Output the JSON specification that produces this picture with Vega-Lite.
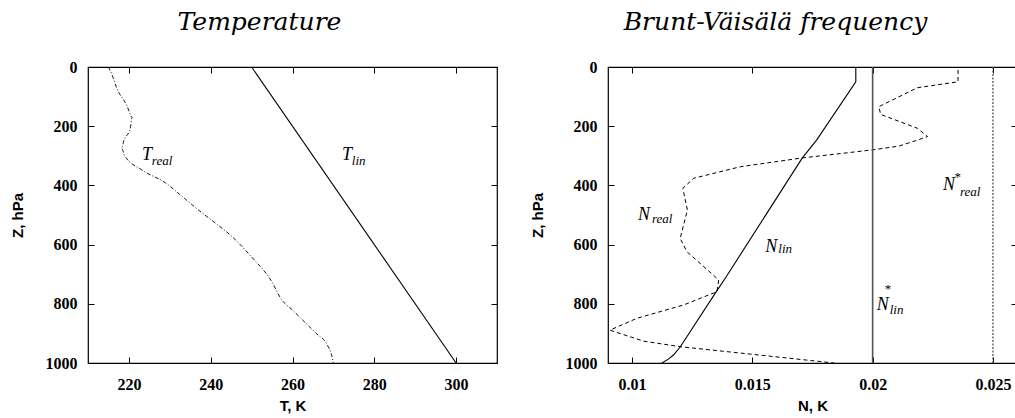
{
  "$schema": "https://vega.github.io/schema/vega-lite/v6.json",
  "padding": {"left": 9, "top": 9, "right": 0, "bottom": 0},
  "background": "white",
  "config": {
    "view": {"stroke": "black", "strokeWidth": 1.2},
    "font": "Liberation Serif",
    "axis": {"domain": false, "grid": false, "tickColor": "black", "tickSize": -6, "tickWidth": 1, "labelFont": "Liberation Serif", "labelFontWeight": "bold", "labelFontSize": 16, "labelColor": "black", "titleFont": "Liberation Sans", "titleFontWeight": "bold", "titleFontSize": 15, "titleColor": "black"},
    "axisX": {"labelPadding": 19, "titlePadding": 6},
    "axisY": {"labelPadding": 17, "titlePadding": 20},
    "title": {"font": "DejaVu Serif", "fontStyle": "italic", "fontWeight": "normal", "fontSize": 25, "color": "black", "offset": 24}
  },
  "datasets": {
    "tprof": [
      {"series": "lin", "t": 250, "z": 0}, {"series": "lin", "t": 300, "z": 1000},
      {"series": "real", "t": 215, "z": 0}, {"series": "real", "t": 215.9, "z": 27}, {"series": "real", "t": 217, "z": 70}, {"series": "real", "t": 219.5, "z": 130}, {"series": "real", "t": 220.8, "z": 170}, {"series": "real", "t": 220.3, "z": 210}, {"series": "real", "t": 218.8, "z": 247}, {"series": "real", "t": 218.2, "z": 275}, {"series": "real", "t": 219, "z": 300}, {"series": "real", "t": 223.2, "z": 348}, {"series": "real", "t": 229, "z": 392}, {"series": "real", "t": 233, "z": 437}, {"series": "real", "t": 237, "z": 483}, {"series": "real", "t": 241.2, "z": 528}, {"series": "real", "t": 245.3, "z": 574}, {"series": "real", "t": 250, "z": 642}, {"series": "real", "t": 254.7, "z": 720}, {"series": "real", "t": 257.4, "z": 787}, {"series": "real", "t": 260, "z": 821}, {"series": "real", "t": 263, "z": 862}, {"series": "real", "t": 265.7, "z": 899}, {"series": "real", "t": 268.5, "z": 939}, {"series": "real", "t": 269.5, "z": 970}, {"series": "real", "t": 270, "z": 1000}
    ],
    "nprof": [
      {"series": "lin", "n": 0.0193, "z": 0}, {"series": "lin", "n": 0.0193, "z": 50}, {"series": "lin", "n": 0.01767, "z": 247}, {"series": "lin", "n": 0.01707, "z": 308}, {"series": "lin", "n": 0.01388, "z": 713}, {"series": "lin", "n": 0.01346, "z": 764}, {"series": "lin", "n": 0.0120, "z": 946}, {"series": "lin", "n": 0.01172, "z": 973}, {"series": "lin", "n": 0.01151, "z": 987}, {"series": "lin", "n": 0.01124, "z": 1000},
      {"series": "real", "n": 0.02355, "z": 10}, {"series": "real", "n": 0.02355, "z": 50}, {"series": "real", "n": 0.02186, "z": 70}, {"series": "real", "n": 0.02026, "z": 134}, {"series": "real", "n": 0.02033, "z": 160}, {"series": "real", "n": 0.02186, "z": 207}, {"series": "real", "n": 0.02228, "z": 235}, {"series": "real", "n": 0.02186, "z": 247}, {"series": "real", "n": 0.0211, "z": 267}, {"series": "real", "n": 0.0200, "z": 280}, {"series": "real", "n": 0.0170, "z": 308}, {"series": "real", "n": 0.0145, "z": 337}, {"series": "real", "n": 0.01256, "z": 376}, {"series": "real", "n": 0.01211, "z": 410}, {"series": "real", "n": 0.0123, "z": 483}, {"series": "real", "n": 0.0120, "z": 579}, {"series": "real", "n": 0.01228, "z": 624}, {"series": "real", "n": 0.01353, "z": 714}, {"series": "real", "n": 0.0136, "z": 720}, {"series": "real", "n": 0.01353, "z": 759}, {"series": "real", "n": 0.01214, "z": 804}, {"series": "real", "n": 0.0102, "z": 849}, {"series": "real", "n": 0.00908, "z": 889}, {"series": "real", "n": 0.01047, "z": 926}, {"series": "real", "n": 0.0120, "z": 945}, {"series": "real", "n": 0.01492, "z": 970}, {"series": "real", "n": 0.0184, "z": 1000}
    ],
    "nstar": [{"series": "lin", "n": 0.02}, {"series": "real", "n": 0.025}],
    "tmain": [{"s": "T", "t": 223.2, "z": 314}, {"s": "T", "t": 272.1, "z": 314}],
    "tsub": [{"s": "real", "t": 225.6, "z": 331}, {"s": "lin", "t": 274.5, "z": 331}],
    "nmain": [{"s": "N", "n": 0.01025, "z": 517}, {"s": "N", "n": 0.01554, "z": 625}, {"s": "N", "n": 0.02292, "z": 416}, {"s": "N", "n": 0.02017, "z": 821}],
    "nsub": [{"s": "real", "n": 0.01083, "z": 527}, {"s": "lin", "n": 0.01608, "z": 628}, {"s": "real", "n": 0.02363, "z": 436}, {"s": "lin", "n": 0.02071, "z": 834}],
    "nsup": [{"s": "*", "n": 0.02340, "z": 385}, {"s": "*", "n": 0.02050, "z": 762}]
  },
  "spacing": 30,
  "hconcat": [
    {
      "width": 409, "height": 296,
      "title": {"text": "Temperature", "dx": -33},
      "layer": [
        {
          "data": {"name": "tprof"},
          "transform": [{"filter": "datum.series == 'lin'"}],
          "mark": {"type": "line", "color": "black", "strokeWidth": 1.1},
          "encoding": {
            "x": {"field": "t", "type": "quantitative", "scale": {"domain": [210, 310], "nice": false, "zero": false}, "axis": {"values": [220, 240, 260, 280, 300], "title": "T, K", "orient": "bottom"}},
            "y": {"field": "z", "type": "quantitative", "scale": {"domain": [0, 1000], "reverse": true, "nice": false}, "axis": {"values": [0, 200, 400, 600, 800, 1000], "format": "d", "title": "Z, hPa", "orient": "left"}},
            "order": {"field": "z"}
          }
        },
        {
          "data": {"name": "tprof"},
          "transform": [{"filter": "datum.series == 'real'"}],
          "mark": {"type": "line", "color": "black", "strokeWidth": 0.9, "strokeDash": [4, 2, 1, 2], "interpolate": "monotone"},
          "encoding": {
            "x": {"field": "t", "type": "quantitative", "axis": {"values": [220, 240, 260, 280, 300], "orient": "top", "labels": false, "title": null}},
            "y": {"field": "z", "type": "quantitative", "axis": {"values": [0, 200, 400, 600, 800, 1000], "orient": "right", "labels": false, "title": null}},
            "order": {"field": "z"}
          }
        },
        {
          "data": {"name": "tmain"},
          "mark": {"type": "text", "align": "left", "baseline": "alphabetic", "font": "Liberation Serif", "fontStyle": "italic", "fontSize": 18, "color": "black"},
          "encoding": {"x": {"field": "t", "type": "quantitative", "axis": null}, "y": {"field": "z", "type": "quantitative", "axis": null}, "text": {"field": "s"}}
        },
        {
          "data": {"name": "tsub"},
          "mark": {"type": "text", "align": "left", "baseline": "alphabetic", "font": "Liberation Serif", "fontStyle": "italic", "fontSize": 13, "color": "black"},
          "encoding": {"x": {"field": "t", "type": "quantitative", "axis": null}, "y": {"field": "z", "type": "quantitative", "axis": null}, "text": {"field": "s"}}
        }
      ],
      "resolve": {"axis": {"x": "independent", "y": "independent"}}
    },
    {
      "width": 409, "height": 296,
      "title": {"text": "Brunt-Väisälä frequency", "dx": -37},
      "layer": [
        {
          "data": {"name": "nprof"},
          "transform": [{"filter": "datum.series == 'lin'"}],
          "mark": {"type": "line", "color": "black", "strokeWidth": 1.1},
          "encoding": {
            "x": {"field": "n", "type": "quantitative", "scale": {"domain": [0.009, 0.026], "nice": false, "zero": false}, "axis": {"values": [0.01, 0.015, 0.02, 0.025], "format": "~g", "title": "N, K", "orient": "bottom"}},
            "y": {"field": "z", "type": "quantitative", "scale": {"domain": [0, 1000], "reverse": true, "nice": false}, "axis": {"values": [0, 200, 400, 600, 800, 1000], "format": "d", "title": "Z, hPa", "orient": "left"}},
            "order": {"field": "z"}
          }
        },
        {
          "data": {"name": "nprof"},
          "transform": [{"filter": "datum.series == 'real'"}],
          "mark": {"type": "line", "color": "black", "strokeWidth": 1, "strokeDash": [4, 3]},
          "encoding": {
            "x": {"field": "n", "type": "quantitative", "axis": {"values": [0.01, 0.015, 0.02, 0.025], "orient": "top", "labels": false, "title": null}},
            "y": {"field": "z", "type": "quantitative", "axis": {"values": [0, 200, 400, 600, 800, 1000], "orient": "right", "labels": false, "title": null}},
            "order": {"field": "z"}
          }
        },
        {
          "data": {"name": "nstar"},
          "transform": [{"filter": "datum.series == 'lin'"}],
          "mark": {"type": "rule", "color": "#555555", "strokeWidth": 1.6},
          "encoding": {"x": {"field": "n", "type": "quantitative", "axis": null}}
        },
        {
          "data": {"name": "nstar"},
          "transform": [{"filter": "datum.series == 'real'"}],
          "mark": {"type": "rule", "color": "#555555", "strokeWidth": 1.3, "strokeDash": [2, 1.5]},
          "encoding": {"x": {"field": "n", "type": "quantitative", "axis": null}}
        },
        {
          "data": {"name": "nmain"},
          "mark": {"type": "text", "align": "left", "baseline": "alphabetic", "font": "Liberation Serif", "fontStyle": "italic", "fontSize": 18, "color": "black"},
          "encoding": {"x": {"field": "n", "type": "quantitative", "axis": null}, "y": {"field": "z", "type": "quantitative", "axis": null}, "text": {"field": "s"}}
        },
        {
          "data": {"name": "nsub"},
          "mark": {"type": "text", "align": "left", "baseline": "alphabetic", "font": "Liberation Serif", "fontStyle": "italic", "fontSize": 13, "color": "black"},
          "encoding": {"x": {"field": "n", "type": "quantitative", "axis": null}, "y": {"field": "z", "type": "quantitative", "axis": null}, "text": {"field": "s"}}
        },
        {
          "data": {"name": "nsup"},
          "mark": {"type": "text", "align": "left", "baseline": "alphabetic", "font": "Liberation Serif", "fontStyle": "normal", "fontSize": 13, "color": "black"},
          "encoding": {"x": {"field": "n", "type": "quantitative", "axis": null}, "y": {"field": "z", "type": "quantitative", "axis": null}, "text": {"field": "s"}}
        }
      ],
      "resolve": {"axis": {"x": "independent", "y": "independent"}}
    }
  ]
}
